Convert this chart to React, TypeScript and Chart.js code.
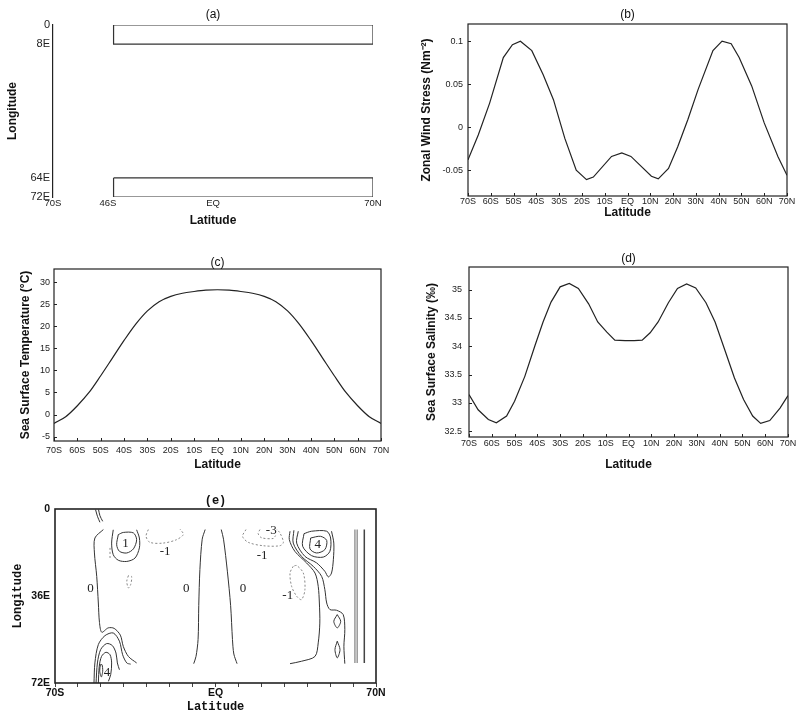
import React, { useEffect, useRef } from "react";
import { Chart, registerables } from "chart.js";
Chart.register(...registerables);

type Pt = [number, number];

/* ---------------- shared ---------------- */
const latTicks = [-70, -60, -50, -40, -30, -20, -10, 0, 10, 20, 30, 40, 50, 60, 70];

/* ---------------- (a) model domain ---------------- */
const domainLatTicks = [-70, -46, 0, 70];
const domainLonTicks = [0, 8, 64, 72];
const stripLatEdges = [-43.5, 70];
const northStripLon = [0, 8];
const southStripLon = [64, 72];

/* ---------------- (b) zonal wind stress ---------------- */
const windLat = [-70, -65.5, -60.5, -54.5, -50.5, -47, -42, -37, -32.5, -27.5, -22.5, -18, -15, -7, -2.5, 1.5, 10.5, 13.5, 18, 22, 26.5, 31, 37.5, 41.5, 45.5, 49, 54.5, 60, 66, 70];
const windStress = [-0.038, -0.009, 0.028, 0.081, 0.096, 0.1, 0.089, 0.061, 0.032, -0.013, -0.05, -0.061, -0.058, -0.034, -0.03, -0.034, -0.057, -0.06, -0.048, -0.023, 0.009, 0.044, 0.089, 0.1, 0.097, 0.081, 0.048, 0.005, -0.034, -0.056];
const windTicks = [-0.05, 0, 0.05, 0.1];

/* ---------------- (c) sea surface temperature ---------------- */
const sstLat = [-70, -65, -60, -55, -50, -45, -40, -35, -30, -25, -20, -15, -10, -5, 0, 5, 10, 15, 20, 25, 30, 35, 40, 45, 50, 55, 60, 65, 70];
const sst = [-2.0, -0.5, 2.0, 5.0, 8.8, 12.8, 16.8, 20.5, 23.5, 25.6, 26.8, 27.5, 27.9, 28.2, 28.3, 28.2, 27.9, 27.5, 26.8, 25.6, 23.5, 20.5, 16.8, 12.8, 8.8, 5.0, 2.0, -0.5, -2.0];
const sstTicks = [-5, 0, 5, 10, 15, 20, 25, 30];

/* ---------------- (d) sea surface salinity ---------------- */
const salLat = [-70, -66, -61.5, -58, -53.5, -50, -45.5, -41, -37.5, -34, -30, -26, -22, -17.5, -13.5, -9.5, -6, -1.5, 2.5, 6, 9.5, 13, 17.5, 21.5, 25.5, 29.5, 34, 38, 42.5, 46.5, 50.5, 54.5, 58, 62, 66.5, 70];
const salinity = [33.15, 32.88, 32.71, 32.65, 32.77, 33.03, 33.47, 34.02, 34.43, 34.78, 35.05, 35.11, 35.02, 34.75, 34.43, 34.25, 34.11, 34.1, 34.1, 34.11, 34.24, 34.43, 34.77, 35.02, 35.1, 35.03, 34.77, 34.43, 33.91, 33.44, 33.06, 32.77, 32.64, 32.69, 32.91, 33.13];
const salTicks = [32.5, 33, 33.5, 34, 34.5, 35];

/* ---------------- (e) contour field, [lat, lon] ---------------- */
const eLonTicks = [0, 36, 72];
const eLatLabelled = [-70, 0, 70];
const eZeroWest: Pt[] = [[-48.9, 8.5], [-52.6, 12], [-52.8, 18.2], [-51.8, 27.9], [-51.1, 38.9], [-50.6, 47], [-49.6, 51], [-46.8, 49.2], [-44.2, 49.4], [-41.5, 52.2], [-40.2, 56.9], [-38, 61], [-34.4, 63.7]];
const eZeroCentreS: Pt[] = [[-4.5, 8.5], [-5.8, 12.5], [-6.8, 25], [-7.3, 40], [-7.6, 54], [-8.5, 61], [-9.5, 64]];
const eZeroCentreN: Pt[] = [[2.5, 8.5], [3.5, 12.5], [5.2, 26], [6.6, 40], [7.4, 54], [8, 60], [9.4, 64]];
const eEdgeA: Pt[] = [[-52.3, 0.3], [-51.5, 3], [-50.4, 5.5]];
const eEdgeB: Pt[] = [[-51, 0.3], [-50.4, 2.8], [-49.2, 5.1]];
const eOneOuter: Pt[] = [[-44.6, 8.6], [-45.3, 14.1], [-44.6, 18.9], [-42.4, 21.2], [-38.7, 21.7], [-35.1, 20.3], [-33.2, 16.1], [-33.2, 12], [-34.4, 8.6]];
const eOneInner: Pt[] = [[-42.4, 10.6], [-43.1, 14.8], [-41.9, 17.5], [-38.7, 18.2], [-35.8, 16.5], [-34.4, 12.7], [-35.8, 9.9], [-40.2, 9.7], [-42.4, 10.6]];
const eSouthWest1: Pt[] = [[-53, 72], [-52.6, 63.7], [-51.1, 56.1], [-48.2, 52.4], [-44.6, 51.3], [-41.9, 54.7], [-40.5, 60.3], [-38.7, 63.7], [-37, 64.2]];
const eSouthWest2: Pt[] = [[-52.1, 72], [-51.5, 63.7], [-50.1, 58.2], [-47.5, 55.7], [-45, 56.5], [-43.4, 59.6], [-42.8, 63.7], [-41.9, 66.5]];
const eSouthWest3: Pt[] = [[-51.1, 72], [-50.7, 65.1], [-49.7, 61], [-47.8, 59.3], [-46, 60.3], [-45.3, 63.7], [-45.7, 68.5], [-46.7, 71.3]];
const eSouthWest4: Pt[] = [[-50.2, 64.4], [-50.5, 67], [-49.8, 69.5], [-49.2, 67], [-49.5, 64.4], [-50.2, 64.4]];
const eNegTopWest: Pt[] = [[-29.3, 8.5], [-30.3, 11.3], [-28.6, 13.8], [-22.8, 14.1], [-17, 12.7], [-14, 10.5], [-15.5, 8.3]];
const eNegSmallWest: Pt[] = [[-38, 27.6], [-38.7, 29.9], [-38, 32.7], [-37, 31.3], [-36.6, 27.9], [-38, 27.6]];
const eNegTickWest: Pt[] = [[-46, 16.1], [-46, 20.3]];
const eNegTopEast: Pt[] = [[13.3, 8.5], [11.8, 11.3], [14.3, 13.8], [20.8, 15.2], [28.1, 15.2], [29.6, 13.8], [28.1, 9.9], [26.6, 8.3]];
const eNegThreeEast: Pt[] = [[19.4, 8.5], [18.6, 10.2], [20.1, 11.9], [25.2, 12.2], [26.2, 11]];
const eNegMidEast: Pt[] = [[33.9, 23.7], [32.5, 26.5], [33.2, 32], [35.4, 36.1], [37.5, 37.5], [39, 33.4], [38.3, 26.5], [35.4, 23.4], [33.9, 23.7]];
const eEast1: Pt[] = [[32.5, 9.2], [32.2, 12.7], [34.6, 17.5], [39.7, 22.3], [43.4, 26.5], [44.8, 32], [45.3, 38.9], [45.5, 47.2], [44.8, 55.4], [43.4, 61], [37.5, 63], [32.5, 64]];
const eEast2: Pt[] = [[34.2, 8.8], [33.9, 14.1], [37.5, 19.6], [42.6, 23.7], [46.3, 27.9], [47.7, 33.4], [48.5, 38.9], [49.9, 41.6], [52.8, 41.9], [55.7, 43.7], [56.4, 49.9], [56, 56.8], [56.4, 64]];
const eEast3: Pt[] = [[36.1, 9.2], [35.4, 14.1], [39, 19.6], [44.1, 22.3], [47.7, 25.8], [49.2, 28.1], [50.6, 26.5], [51.4, 21], [51.6, 14.1], [50.6, 9.2]];
const eEast4: Pt[] = [[38.6, 10.2], [38, 15.4], [41.9, 19.3], [47, 19.9], [49.9, 17.5], [50.2, 12], [48.5, 9.2], [41.9, 9.2], [38.6, 10.2]];
const eEast5: Pt[] = [[41.5, 12], [41.2, 16.5], [44.1, 18.2], [47.7, 16.8], [48.5, 13], [45.8, 11.3], [41.5, 12]];
const eEastLoop1: Pt[] = [[53.1, 43.7], [51.6, 46.5], [53.1, 49.2], [54.6, 46.5], [53.1, 43.7]];
const eEastLoop2: Pt[] = [[53.1, 54.7], [52.1, 58.2], [53.1, 61.6], [54.3, 58.2], [53.1, 54.7]];
const eWallA: Pt[] = [[60.8, 8.5], [60.8, 63.7]];
const eWallB: Pt[] = [[61.8, 8.5], [61.8, 63.7]];
const eWallC: Pt[] = [[64.9, 8.5], [64.9, 63.7]];
const eNoteLat = [-54.5, -12.8, 12.0, -39.2, -22, 24.3, 20.3, 31.5, 44.6, -47.3];
const eNoteLon = [33, 33, 33, 14.2, 17.8, 8.8, 19.2, 36, 14.6, 67.8];
const eNoteText = ["0", "0", "0", "1", "-1", "-3", "-1", "-1", "4", "4"];

/* ---------------- helpers ---------------- */
const SANS = '"Liberation Sans", Arial, sans-serif';
const MONO = '"Liberation Mono", "DejaVu Sans Mono", monospace';
const SERIF = '"Liberation Serif", "DejaVu Serif", serif';
const AXT = { family: SANS, size: 12, weight: "bold" as const };
const TICKF = { family: SANS, size: 9 };

const latLabel = (v: number) => (v === 0 ? "EQ" : v < 0 ? `${-v}S` : `${v}N`);
const xy = (xs: number[], ys: number[]) => xs.map((x, i) => ({ x, y: ys[i] }));
const pts = (p: Pt[]) => p.map(([x, y]) => ({ x, y }));
const rect = (lat: number[], lon: number[]) =>
  pts([[lat[0], lon[0]], [lat[1], lon[0]], [lat[1], lon[1]], [lat[0], lon[1]], [lat[0], lon[0]]]);

const line = (data: { x: number; y: number }[], color = "#222", width = 1.2, dash: number[] = [], extra: any = {}) => ({
  data,
  showLine: true,
  borderColor: color,
  borderWidth: width,
  borderDash: dash,
  pointRadius: 0,
  pointHoverRadius: 0,
  fill: false,
  tension: 0,
  ...extra,
});

const fixTicks = (vals: number[]) => (s: any) => {
  s.ticks = vals.map((value) => ({ value }));
};

type Frame = {
  title: string;
  titleFont: string;
  titleGap: number;
  box?: number;
  inTicks?: boolean;
  notes?: { lat: number; lon: number; text: string }[];
  noteFont?: string;
};

function framePlugin(o: Frame) {
  return {
    id: "frame",
    afterDraw(chart: any) {
      const { ctx, chartArea: a, scales } = chart;
      ctx.save();
      ctx.strokeStyle = "#222";
      if (o.box) {
        ctx.lineWidth = o.box;
        ctx.strokeRect(a.left, a.top, a.right - a.left, a.bottom - a.top);
      }
      if (o.inTicks) {
        ctx.lineWidth = 1;
        ctx.beginPath();
        for (const t of scales.x.ticks) {
          const p = Math.round(scales.x.getPixelForValue(t.value)) + 0.5;
          ctx.moveTo(p, a.bottom);
          ctx.lineTo(p, a.bottom - 3);
        }
        for (const t of scales.y.ticks) {
          const p = Math.round(scales.y.getPixelForValue(t.value)) + 0.5;
          ctx.moveTo(a.left, p);
          ctx.lineTo(a.left + 3, p);
        }
        ctx.stroke();
      }
      ctx.fillStyle = "#111";
      ctx.textAlign = "center";
      ctx.textBaseline = "middle";
      ctx.font = o.titleFont;
      ctx.fillText(o.title, (a.left + a.right) / 2, a.top - o.titleGap);
      if (o.notes && o.noteFont) {
        ctx.font = o.noteFont;
        ctx.fillStyle = "#222";
        for (const n of o.notes) {
          ctx.fillText(n.text, scales.x.getPixelForValue(n.lat), scales.y.getPixelForValue(n.lon));
        }
      }
      ctx.restore();
    },
  };
}

const baseOptions = (extra: any) => ({
  responsive: false,
  animation: false,
  events: [],
  plugins: { legend: { display: false }, tooltip: { enabled: false } },
  ...extra,
});

const latAxis = (height: number, pad: number, titlePad: number) => ({
  type: "linear",
  min: -70,
  max: 70,
  afterBuildTicks: fixTicks(latTicks),
  afterFit: (s: any) => {
    s.height = height;
  },
  grid: { display: false, drawTicks: false },
  border: { display: false },
  ticks: { callback: (v: any) => latLabel(+v), font: TICKF, color: "#222", padding: pad, maxRotation: 0, autoSkip: false },
  title: { display: true, text: "Latitude", font: AXT, color: "#111", padding: { top: 0, bottom: titlePad } },
});

const valueAxis = (min: number, max: number, ticks: number[], width: number, pad: number, title: string, titlePad: number) => ({
  type: "linear",
  min,
  max,
  afterBuildTicks: fixTicks(ticks),
  afterFit: (s: any) => {
    s.width = width;
  },
  grid: { display: false, drawTicks: false },
  border: { display: false },
  ticks: { callback: (v: any) => String(+v), font: TICKF, color: "#222", padding: pad },
  title: { display: true, text: title, font: AXT, color: "#111", padding: { top: titlePad, bottom: 0 } },
});

/* ---------------- chart configs ---------------- */
function configA(): any {
  return {
    type: "scatter",
    data: {
      datasets: [
        line(rect(stripLatEdges, northStripLon), "#333", 1.2),
        line(rect(stripLatEdges, southStripLon), "#333", 1.2),
      ],
    },
    options: baseOptions({
      layout: { padding: { top: 25, right: 19, left: 0, bottom: 0 } },
      scales: {
        x: {
          type: "linear",
          min: -70,
          max: 70,
          afterBuildTicks: fixTicks(domainLatTicks),
          afterFit: (s: any) => {
            s.height = 32;
          },
          grid: { display: false, drawTicks: false },
          border: { display: false },
          ticks: { callback: (v: any) => latLabel(+v), font: { family: SANS, size: 9.5 }, color: "#222", padding: 1, maxRotation: 0, autoSkip: false },
          title: { display: true, text: "Latitude", font: AXT, color: "#111", padding: { top: 0, bottom: 1 } },
        },
        y: {
          type: "linear",
          reverse: true,
          min: 0,
          max: 72,
          afterBuildTicks: fixTicks(domainLonTicks),
          afterFit: (s: any) => {
            s.width = 53;
          },
          grid: { display: false, drawTicks: false },
          border: { display: true, color: "#222", width: 1.2 },
          ticks: { callback: (v: any) => (+v === 0 ? "0" : `${v}E`), font: { family: SANS, size: 11 }, color: "#222", padding: 3 },
          title: { display: true, text: "Longitude", font: AXT, color: "#111", padding: { top: 5, bottom: 0 } },
        },
      },
    }),
    plugins: [framePlugin({ title: "(a)", titleFont: `12px ${SANS}`, titleGap: 10 })],
  };
}

function configB(): any {
  return {
    type: "scatter",
    data: { datasets: [line(xy(windLat, windStress), "#222", 1.2)] },
    options: baseOptions({
      layout: { padding: { top: 24, right: 12, left: 0, bottom: 0 } },
      scales: {
        x: latAxis(24, 0, 0),
        y: valueAxis(-0.08, 0.12, windTicks, 68, 5, "Zonal Wind Stress (Nm\u207B\u00B2)", 19),
      },
    }),
    plugins: [framePlugin({ title: "(b)", titleFont: `12px ${SANS}`, titleGap: 9, box: 1.2, inTicks: true })],
  };
}

function configC(): any {
  return {
    type: "scatter",
    data: { datasets: [line(xy(sstLat, sst), "#222", 1.2, [], { cubicInterpolationMode: "monotone" })] },
    options: baseOptions({
      layout: { padding: { top: 39, right: 19, left: 0, bottom: 0 } },
      scales: {
        x: latAxis(31, 4, 0),
        y: valueAxis(-6, 33, sstTicks, 54, 4, "Sea Surface Temperature (\u00B0C)", 18),
      },
    }),
    plugins: [framePlugin({ title: "(c)", titleFont: `12px ${SANS}`, titleGap: 6, box: 1.2, inTicks: true })],
  };
}

function configD(): any {
  return {
    type: "scatter",
    data: { datasets: [line(xy(salLat, salinity), "#222", 1.2)] },
    options: baseOptions({
      layout: { padding: { top: 37, right: 11, left: 0, bottom: 0 } },
      scales: {
        x: latAxis(35, 1, 0),
        y: valueAxis(32.4, 35.4, salTicks, 69, 7, "Sea Surface Salinity (\u2030)", 24),
      },
    }),
    plugins: [framePlugin({ title: "(d)", titleFont: `12px ${SANS}`, titleGap: 8, box: 1.2, inTicks: true })],
  };
}

function configE(): any {
  const solid = [eZeroWest, eZeroCentreS, eZeroCentreN, eEdgeA, eEdgeB, eOneOuter, eOneInner, eSouthWest1, eSouthWest2, eSouthWest3, eSouthWest4, eEast1, eEast2, eEast3, eEast4, eEast5, eEastLoop1, eEastLoop2];
  const dashed = [eNegTopWest, eNegSmallWest, eNegTickWest, eNegTopEast, eNegThreeEast, eNegMidEast];
  const datasets = [
    ...solid.map((c) => line(pts(c), "#333", 1, [], { tension: 0.3 })),
    ...dashed.map((c) => line(pts(c), "#888", 1, [2, 2], { tension: 0.3 })),
    line(pts(eWallA), "#999", 1.5),
    line(pts(eWallB), "#999", 1.5),
    line(pts(eWallC), "#444", 1.5),
  ];
  const notes = eNoteText.map((text, i) => ({ lat: eNoteLat[i], lon: eNoteLon[i], text }));
  return {
    type: "scatter",
    data: { datasets },
    options: baseOptions({
      layout: { padding: { top: 25, right: 16, left: 0, bottom: 0 } },
      scales: {
        x: {
          type: "linear",
          min: -70,
          max: 70,
          afterBuildTicks: fixTicks(latTicks),
          afterFit: (s: any) => {
            s.height = 31;
          },
          grid: { display: true, drawOnChartArea: false, drawTicks: true, tickLength: 4, color: "#444", lineWidth: 1 },
          border: { display: false },
          ticks: {
            callback: (v: any) => (eLatLabelled.includes(+v) ? latLabel(+v) : ""),
            font: { family: SANS, size: 10.5, weight: "bold" },
            color: "#111",
            padding: 0,
            maxRotation: 0,
            autoSkip: false,
          },
          title: { display: true, text: "Latitude", font: { family: MONO, size: 12, weight: "bold" }, color: "#111", padding: { top: 0, bottom: 0 } },
        },
        y: {
          type: "linear",
          reverse: true,
          min: 0,
          max: 72,
          afterBuildTicks: fixTicks(eLonTicks),
          afterFit: (s: any) => {
            s.width = 55;
          },
          grid: { display: false, drawTicks: false },
          border: { display: false },
          ticks: { callback: (v: any) => (+v === 0 ? "0" : `${v}E`), font: { family: SANS, size: 10.5, weight: "bold" }, color: "#111", padding: 5 },
          title: { display: true, text: "Longitude", font: { family: MONO, size: 12, weight: "bold" }, color: "#111", padding: { top: 11, bottom: 0 } },
        },
      },
    }),
    plugins: [
      framePlugin({
        title: "(e)",
        titleFont: `bold 12px ${MONO}`,
        titleGap: 8,
        box: 1.6,
        notes,
        noteFont: `13px ${SERIF}`,
      }),
    ],
  };
}

/* ---------------- component ---------------- */
const panels = [
  { key: "a", left: 0, top: 0, w: 392, h: 229, make: configA },
  { key: "b", left: 400, top: 0, w: 399, h: 220, make: configB },
  { key: "c", left: 0, top: 230, w: 400, h: 242, make: configC },
  { key: "d", left: 400, top: 230, w: 399, h: 242, make: configD },
  { key: "e", left: 0, top: 484, w: 392, h: 230, make: configE },
];

export default function App() {
  const refs = useRef<(HTMLCanvasElement | null)[]>([]);

  useEffect(() => {
    const charts = panels.map((p, i) => new Chart(refs.current[i] as HTMLCanvasElement, p.make()));
    return () => charts.forEach((c) => c.destroy());
  }, []);

  return (
    <div style={{ position: "absolute", left: 0, top: 0, width: 799, height: 714, background: "#fff", overflow: "hidden" }}>
      {panels.map((p, i) => (
        <canvas
          key={p.key}
          ref={(el) => {
            refs.current[i] = el;
          }}
          width={p.w}
          height={p.h}
          style={{ position: "absolute", left: p.left, top: p.top, width: p.w, height: p.h }}
        />
      ))}
    </div>
  );
}
